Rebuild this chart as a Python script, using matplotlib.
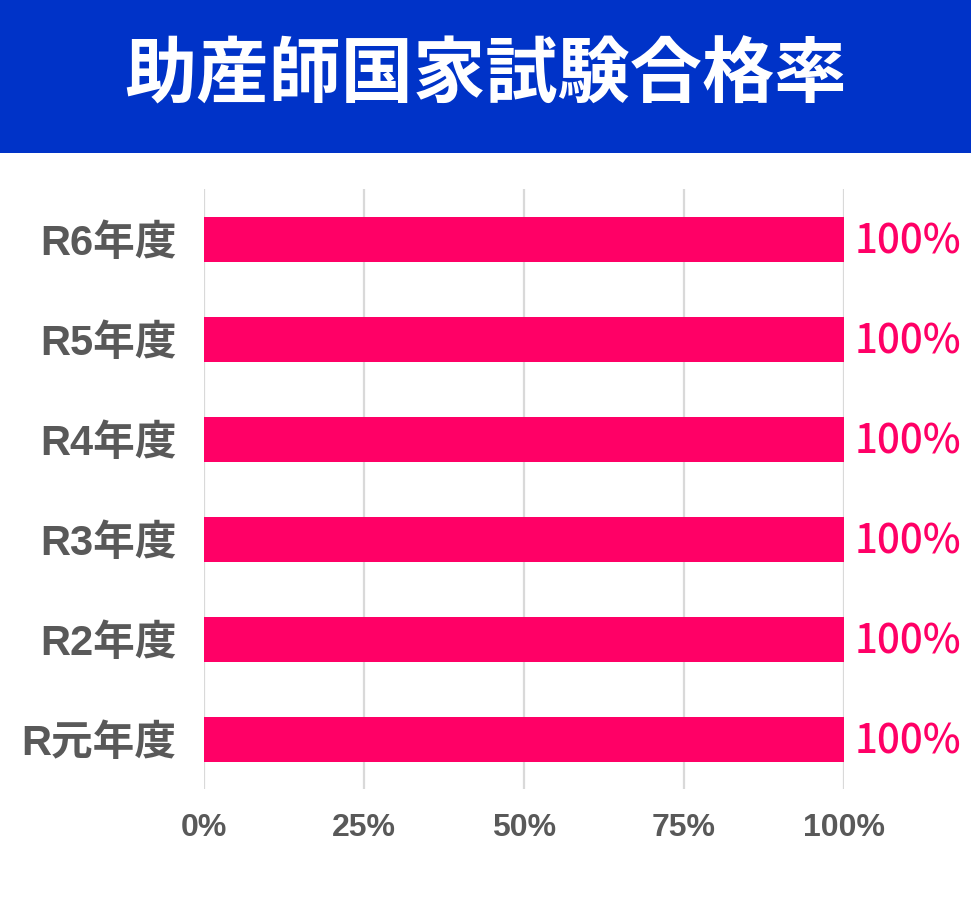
import matplotlib.pyplot as plt
from matplotlib.patches import Rectangle

plt.rcParams['font.family'] = ['Noto Sans CJK JP', 'DejaVu Sans']
label_font = ['Liberation Sans', 'Noto Sans CJK JP']

# data
years = ['R6年度', 'R5年度', 'R4年度', 'R3年度', 'R2年度', 'R元年度']
rates = [100, 100, 100, 100, 100, 100]
xticks = [0, 25, 50, 75, 100]

title = '助産師国家試験合格率'
bar_color = '#FF0066'
gray = '#595959'

fig = plt.figure(figsize=(9.71, 9.11), dpi=100)
fig.patches.append(Rectangle((0, 0.832), 1, 0.168, transform=fig.transFigure,
                             facecolor='#0033C8', edgecolor='none', zorder=0))
fig.text(0.5, 0.916, title, color='white', fontsize=52, ha='center', va='center',
         fontweight='bold')

ax = fig.add_axes([0.2101, 0.1339, 0.6591, 0.6586])
pos = list(range(len(years)))[::-1]
bars = ax.barh(pos, rates, height=0.45, color=bar_color, zorder=2)

for b, v in zip(bars, rates):
    ax.annotate('%d%%' % v, (b.get_width(), b.get_y() + b.get_height() / 2),
                xytext=(8, -2), textcoords='offset points',
                color=bar_color, fontsize=29, va='center', ha='left',
                fontweight='medium')

ax.set_xlim(0, 100)
ax.set_ylim(-0.5, len(years) - 0.5)
ax.set_yticks(pos)
ax.set_yticklabels(years, fontsize=30, fontweight='bold', color=gray, family=label_font)
ax.set_xticks(xticks)
ax.set_xticklabels(['%d%%' % t for t in xticks], fontsize=23, fontweight='bold',
                   color=gray, family=label_font)
ax.tick_params(axis='y', length=0, pad=20)
ax.tick_params(axis='x', length=0, pad=17)
ax.xaxis.grid(True, color='#D9D9D9', linewidth=1.6, zorder=0)
ax.set_axisbelow(True)
for s in ax.spines.values():
    s.set_visible(False)

fig.savefig('out.png', dpi=100)
